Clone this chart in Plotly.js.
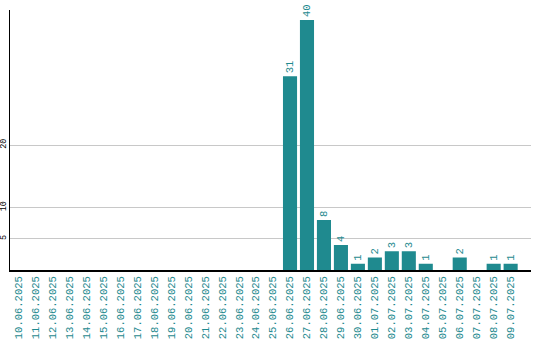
<!DOCTYPE html>
<html>
<head>
<meta charset="utf-8">
<script src="https://cdn.plot.ly/plotly-3.0.1.min.js"></script>
<style>html,body{margin:0;padding:0;background:#fff;}#chart{width:540px;height:340px;}</style>
</head>
<body>
<div id="chart"></div>
<script>
const dates = ["10.06.2025","11.06.2025","12.06.2025","13.06.2025","14.06.2025","15.06.2025","16.06.2025","17.06.2025","18.06.2025","19.06.2025","20.06.2025","21.06.2025","22.06.2025","23.06.2025","24.06.2025","25.06.2025","26.06.2025","27.06.2025","28.06.2025","29.06.2025","30.06.2025","01.07.2025","02.07.2025","03.07.2025","04.07.2025","05.07.2025","06.07.2025","07.07.2025","08.07.2025","09.07.2025"];
const counts = [0,0,0,0,0,0,0,0,0,0,0,0,0,0,0,0,31,40,8,4,1,2,3,3,1,0,2,0,1,1];
const yTicks = [5,10,20];

const teal = "#1f8a8f";
const mono = "Liberation Mono, DejaVu Sans Mono, monospace";

const trace = {
  type: "bar",
  x: dates,
  y: counts,
  text: counts.map(v => v > 0 ? String(v) : ""),
  textposition: "outside",
  textangle: -90,
  textfont: {family: mono, size: 10.5, color: teal},
  cliponaxis: false,
  marker: {color: teal},
  hoverinfo: "none"
};

const layout = {
  width: 540, height: 340,
  margin: {l: 10, r: 9, t: 10, b: 70},
  paper_bgcolor: "#fff", plot_bgcolor: "#fff",
  showlegend: false,
  bargap: 0.17,
  xaxis: {
    type: "category",
    range: [-0.5, 30.2],
    tickangle: -90,
    tickfont: {family: mono, size: 10.5, color: teal},
    showline: true, linecolor: "#000", linewidth: 2,
    showgrid: false, ticks: "", zeroline: false,
    fixedrange: true
  },
  yaxis: {
    range: [0, 41.6],
    tickmode: "array", tickvals: yTicks, ticktext: yTicks.map(String),
    tickangle: -90,
    tickfont: {family: mono, size: 8.5, color: "#000"},
    showline: true, linecolor: "#000", linewidth: 1,
    showgrid: true, gridcolor: "#c8c8c8", gridwidth: 1,
    ticks: "", zeroline: false,
    fixedrange: true
  }
};

Plotly.newPlot("chart", [trace], layout, {displayModeBar: false, staticPlot: true});
</script>
</body>
</html>
